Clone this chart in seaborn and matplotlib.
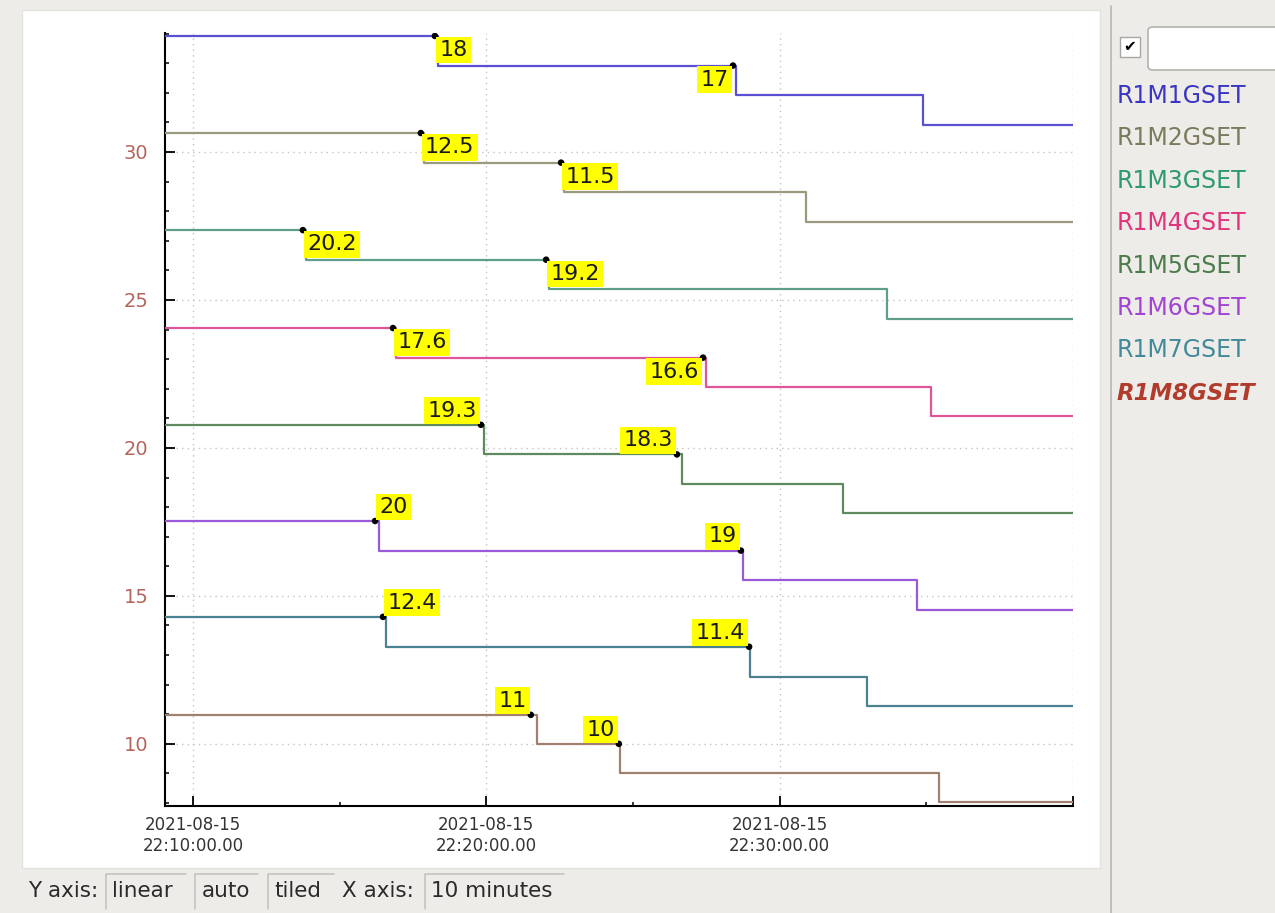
import numpy as np
import pandas as pd
import seaborn as sns
import matplotlib
matplotlib.use("Agg")
import matplotlib.pyplot as plt
import matplotlib.dates as mdates
from matplotlib.patches import Rectangle, FancyBboxPatch

# Curve names and colours (lines / legend text)
series_names = ["R1M1GSET", "R1M2GSET", "R1M3GSET", "R1M4GSET",
                "R1M5GSET", "R1M6GSET", "R1M7GSET", "R1M8GSET"]
line_colors = ["#5b4fd2", "#9c9a7c", "#5f9e8a", "#e0559a",
               "#5f8a5f", "#9a5ad8", "#4a8292", "#a08070"]
legend_colors = ["#3a36c4", "#7c7a5c", "#2e9a70", "#e0347c",
                 "#4c7c4c", "#a244d2", "#428a9a", "#b23c2c"]

# Step data (minutes after 22:00), tiled display levels
start_min = 9.0
end_min = 40.5
drop_times = [[18.35, 28.51, 34.89],
              [17.88, 22.65, 30.90],
              [13.85, 22.14, 33.66],
              [16.92, 27.49, 35.16],
              [19.92, 26.67, 32.16],
              [16.34, 28.75, 34.68],
              [16.58, 28.99, 32.98],
              [21.73, 24.56, 35.43]]
levels = [[33.92, 32.92, 31.92, 30.92],
          [30.64, 29.64, 28.64, 27.64],
          [27.36, 26.36, 25.36, 24.36],
          [24.05, 23.05, 22.05, 21.07],
          [20.78, 19.78, 18.78, 17.80],
          [17.53, 16.53, 15.54, 14.53],
          [14.29, 13.28, 12.27, 11.28],
          [10.98, 10.00, 9.02, 8.04]]

# Marked samples with their real values
marker_times = [[18.25, 28.41],
                [17.77, 22.55],
                [13.75, 22.04],
                [16.82, 27.39],
                [19.82, 26.50],
                [16.21, 28.68],
                [16.48, 28.96],
                [21.52, 24.52]]
marker_labels = [["18", "17"], ["12.5", "11.5"], ["20.2", "19.2"], ["17.6", "16.6"],
                 ["19.3", "18.3"], ["20", "19"], ["12.4", "11.4"], ["11", "10"]]
label_pos = [["br", "bl"], ["br", "br"], ["br", "br"], ["br", "bl"],
             ["tl", "tl"], ["tr", "tl"], ["tr", "tl"], ["tl", "tl"]]

# x tick minutes; only the first three carry labels
xtick_minutes = [10, 20, 30, 40]
xtick_labeled = [True, True, True, False]

base = pd.Timestamp("2021-08-15 22:00:00")

def to_time(m):
    return base + pd.to_timedelta(m, unit="m")

rows = []
for name, drops, lv in zip(series_names, drop_times, levels):
    ts = [start_min] + drops + [end_min]
    ys = lv + [lv[-1]]
    for t, y in zip(ts, ys):
        rows.append({"time": to_time(t), "level": y, "series": name})
df = pd.DataFrame(rows)

mrows = []
for i, name in enumerate(series_names):
    for j, t in enumerate(marker_times[i]):
        mrows.append({"time": to_time(t), "level": levels[i][j],
                      "label": marker_labels[i][j], "pos": label_pos[i][j]})
mdf = pd.DataFrame(mrows)

sns.set_theme(style="white")
plt.rcParams["font.family"] = ["DejaVu Sans"]

W, H = 1275, 913
fig = plt.figure(figsize=(W / 100, H / 100), dpi=100)
fig.patch.set_facecolor("#eeece9")

def fx(px):
    return px / W

def fy(py):
    return 1 - py / H

# white plot panel
fig.add_artist(Rectangle((fx(22), fy(868)), fx(1100) - fx(22), fy(10) - fy(868),
                         transform=fig.transFigure, facecolor="white",
                         edgecolor="#e4e2df", lw=1, zorder=-1))
# separator for side panel
fig.add_artist(plt.Line2D([fx(1111), fx(1111)], [0, fy(6)], transform=fig.transFigure,
                          color="#b9b7b4", lw=1.2))

ax = fig.add_axes([fx(165), fy(806), fx(1073) - fx(165), fy(33) - fy(806)])
ax.set_facecolor("white")

sns.lineplot(data=df, x="time", y="level", hue="series", palette=dict(zip(series_names, line_colors)),
             drawstyle="steps-post", estimator=None, legend=False, lw=1.6, ax=ax, zorder=3)
sns.scatterplot(data=mdf, x="time", y="level", color="black", s=22, edgecolor="none",
                legend=False, ax=ax, zorder=5)

offsets = {"br": ((3, -3), "left", "top"), "bl": ((-3, -3), "right", "top"),
           "tl": ((-3, 3), "right", "bottom"), "tr": ((3, 3), "left", "bottom")}
for _, r in mdf.iterrows():
    off, ha, va = offsets[r["pos"]]
    ax.annotate(r["label"], (mdates.date2num(r["time"]), r["level"]), xytext=off,
                textcoords="offset points", ha=ha, va=va, fontsize=16, color="#1a1a1a",
                bbox=dict(boxstyle="square,pad=0.15", facecolor="#ffff00", edgecolor="none"),
                zorder=6)

ax.set_xlim(to_time(9.05), to_time(40.0))
ax.set_ylim(7.9, 34.02)
ax.set_xlabel("")
ax.set_ylabel("")

xt = [mdates.date2num(to_time(m)) for m in xtick_minutes]
ax.set_xticks(xt)
ax.set_xticklabels([to_time(m).strftime("%Y-%m-%d\n%H:%M:%S.00") if keep else ""
                    for m, keep in zip(xtick_minutes, xtick_labeled)])
ax.xaxis.set_minor_locator(mdates.MinuteLocator(byminute=[5, 15, 25, 35, 45, 55]))
ax.set_yticks([10, 15, 20, 25, 30])
ax.set_yticks(np.arange(8, 35, 1), minor=True)

ax.tick_params(axis="both", which="both", bottom=True, left=True, top=False, right=False)
ax.tick_params(axis="both", which="major", direction="in", length=7, width=1.3, color="black")
ax.tick_params(axis="both", which="minor", direction="in", length=3, width=1.1, color="black")
ax.tick_params(axis="x", which="major", labelsize=12, labelcolor="#333333", pad=7)
ax.tick_params(axis="y", which="major", labelsize=14, labelcolor="#b5665c", pad=12)
for lab in ax.get_xticklabels():
    lab.set_linespacing(1.25)

ax.grid(True, which="major", color="#c4c4c4", linestyle=(0, (1, 3)), lw=1)
ax.set_axisbelow(True)
for s in ["top", "right"]:
    ax.spines[s].set_visible(False)
for s in ["left", "bottom"]:
    ax.spines[s].set_color("black")
    ax.spines[s].set_linewidth(1.5)

# side panel: checkbox, entry field, legend
fig.add_artist(Rectangle((fx(1120), fy(57)), fx(1140) - fx(1120), fy(37) - fy(57),
                         transform=fig.transFigure, facecolor="white", edgecolor="#a8a6a3", lw=1))
fig.text(fx(1130), fy(47), "\u2714", fontsize=11, ha="center", va="center", color="black")
fig.add_artist(FancyBboxPatch((fx(1148), fy(70)), fx(1290) - fx(1148), fy(27) - fy(70),
                              boxstyle="round,pad=0,rounding_size=0.004",
                              transform=fig.transFigure, facecolor="white",
                              edgecolor="#b4b2af", lw=1.2))
legend_y = [96, 138, 181, 223, 266, 308, 350, 393]
for name, c, y in zip(series_names, legend_colors, legend_y):
    bold = name == "R1M8GSET"
    fig.text(fx(1117), fy(y), name, fontsize=17 if not bold else 16.5, color=c, ha="left",
             va="center", fontweight="bold" if bold else "normal",
             fontstyle="italic" if bold else "normal")

# bottom status bar
bar_texts = [("Y axis:", 28, None), ("linear", 112, (106, 186)), ("auto", 202, (195, 258)),
             ("tiled", 274, (268, 334)), ("X axis:", 342, None), ("10 minutes", 431, (425, 564))]
for txt, x, box in bar_texts:
    if box is not None:
        fig.add_artist(plt.Line2D([fx(box[0]), fx(box[0]), fx(box[1])],
                                  [fy(909), fy(874), fy(874)], transform=fig.transFigure,
                                  color="#c6c3bf", lw=1.2))
    fig.text(fx(x), fy(891), txt, fontsize=15.5, color="#2a2a2a", ha="left", va="center")

fig.savefig("out.png", dpi=100, facecolor=fig.get_facecolor())
